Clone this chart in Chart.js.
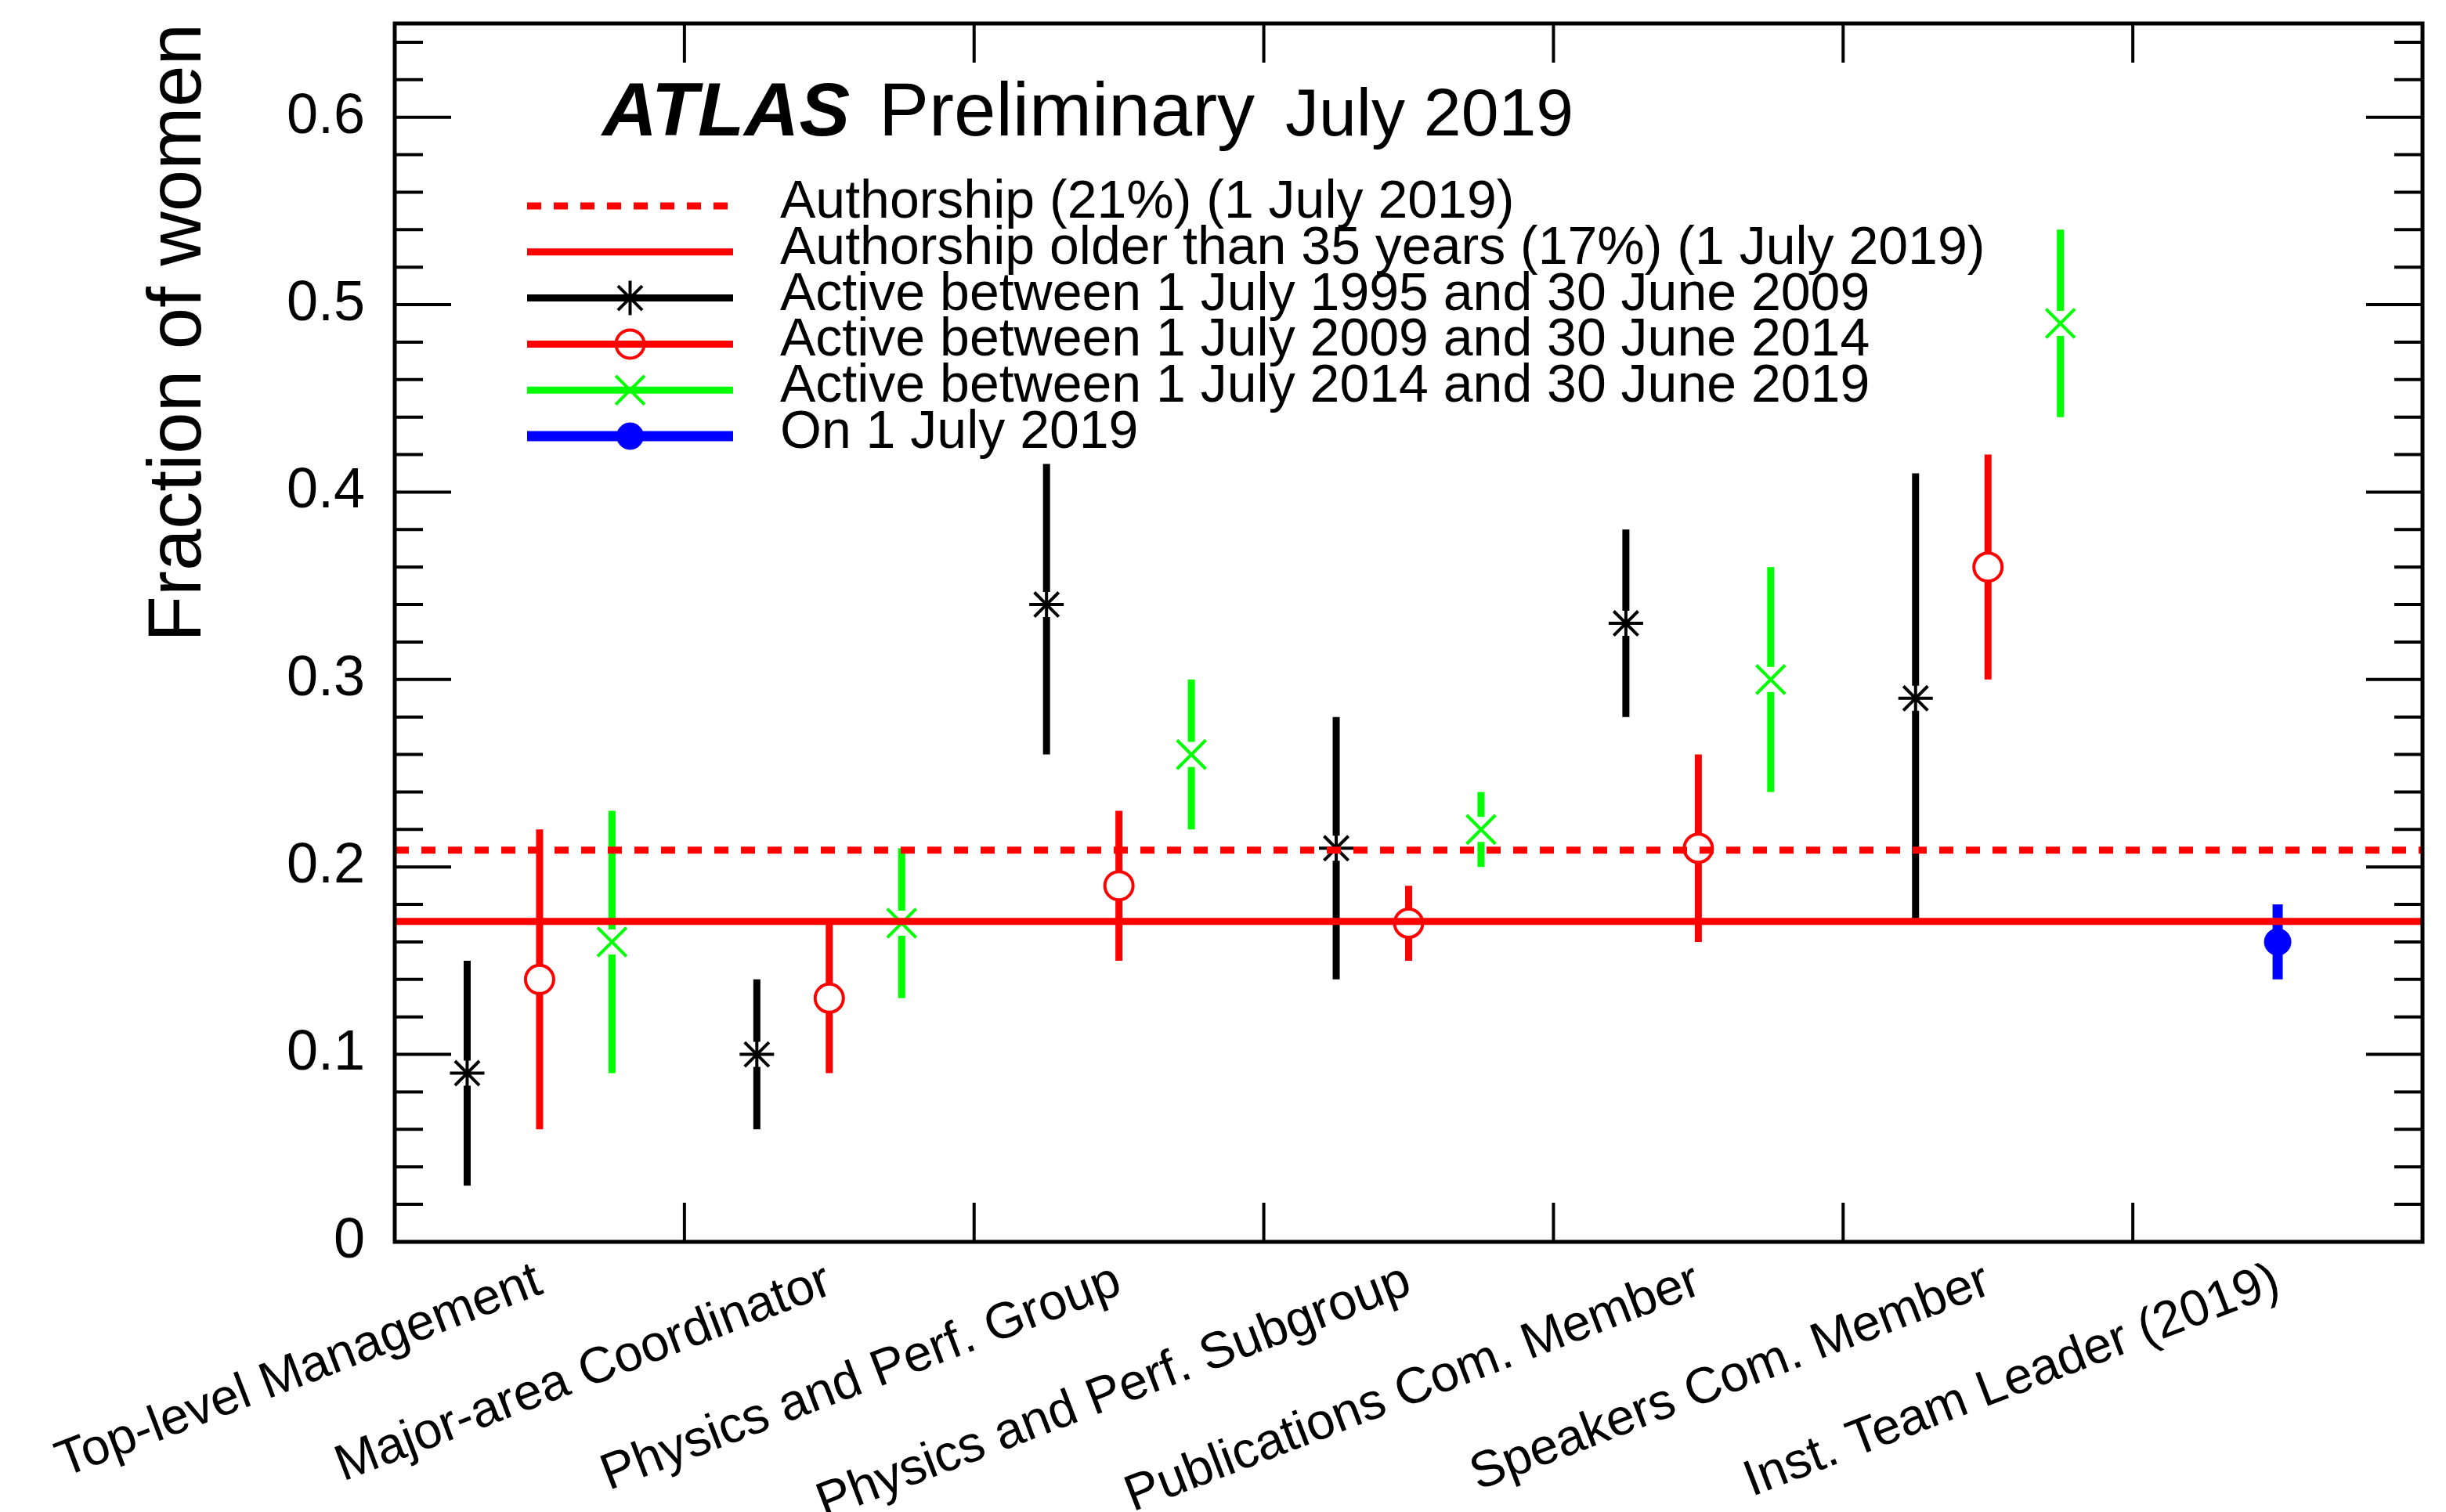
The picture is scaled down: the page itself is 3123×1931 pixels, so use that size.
<!DOCTYPE html>
<html>
<head>
<meta charset="utf-8">
<script src="https://cdn.jsdelivr.net/npm/chart.js@4.4.1/dist/chart.umd.min.js"></script>
<style>
  html, body { margin: 0; padding: 0; background: #fff; }
  canvas { display: block; }
</style>
</head>
<body>
<canvas id="myChart" width="3123" height="1931"></canvas>
<script>
// categories along x
const categories = [
    'Top-level Management',
    'Major-area Coordinator',
    'Physics and Perf. Group',
    'Physics and Perf. Subgroup',
    'Publications Com. Member',
    'Speakers Com. Member',
    'Inst. Team Leader (2019)'
];
const yTicks = [0, 0.1, 0.2, 0.3, 0.4, 0.5, 0.6];
const yTickLabels = ['0', '0.1', '0.2', '0.3', '0.4', '0.5', '0.6'];

// reference lines
const authorshipAll = 0.209;
const authorshipOver35 = 0.171;

// Active between 1 July 1995 and 30 June 2009
const active1995 = [0.09, 0.10, 0.34, 0.21, 0.33, 0.29, null];
const active1995Low = [0.03, 0.06, 0.26, 0.14, 0.28, 0.17, null];
const active1995High = [0.15, 0.14, 0.415, 0.28, 0.38, 0.41, null];

// Active between 1 July 2009 and 30 June 2014
const active2009 = [0.14, 0.13, 0.19, 0.17, 0.21, 0.36, null];
const active2009Low = [0.06, 0.09, 0.15, 0.15, 0.16, 0.30, null];
const active2009High = [0.22, 0.17, 0.23, 0.19, 0.26, 0.42, null];

// Active between 1 July 2014 and 30 June 2019
const active2014 = [0.16, 0.17, 0.26, 0.22, 0.30, 0.49, null];
const active2014Low = [0.09, 0.13, 0.22, 0.20, 0.24, 0.44, null];
const active2014High = [0.23, 0.21, 0.30, 0.24, 0.36, 0.54, null];

// On 1 July 2019
const onJuly2019 = [null, null, null, null, null, null, 0.16];
const onJuly2019Low = [null, null, null, null, null, null, 0.14];
const onJuly2019High = [null, null, null, null, null, null, 0.18];

const FONT = "'Liberation Sans', Arial, Helvetica, sans-serif";

// place a series inside each category slot, keep its error range with the point
function toPoints(vals, lows, highs, shift) {
    return vals.map((v, i) => ({ x: i + shift, y: v, lo: lows[i], hi: highs[i] }))
        .filter(p => p.y !== null);
}

// vertical error bars, with a gap round the marker like ROOT does
const errorBars = {
    id: 'errorBars',
    beforeDatasetsDraw(chart) {
        const { ctx, chartArea: a, scales: { x, y } } = chart;
        ctx.save();
        ctx.beginPath();
        ctx.rect(a.left, a.top, a.width, a.height);
        ctx.clip();
        chart.data.datasets.forEach(ds => {
            if (!ds.errWidth) return;
            ctx.strokeStyle = ds.borderColor;
            ctx.lineWidth = ds.errWidth;
            ds.data.forEach(p => {
                const px = x.getPixelForValue(p.x);
                const py = y.getPixelForValue(p.y);
                const top = y.getPixelForValue(p.hi);
                const bot = y.getPixelForValue(p.lo);
                const g = ds.errGap;
                ctx.beginPath();
                if (py - g > top) { ctx.moveTo(px, top); ctx.lineTo(px, py - g); }
                if (py + g < bot) { ctx.moveTo(px, py + g); ctx.lineTo(px, bot); }
                ctx.stroke();
            });
        });
        ctx.restore();
    }
};

// box frame with inward ticks on all four sides
const frame = {
    id: 'frame',
    afterDatasetsDraw(chart) {
        const { ctx, chartArea: a, scales: { x, y } } = chart;
        ctx.save();
        ctx.strokeStyle = '#000';
        ctx.lineWidth = 4;
        ctx.beginPath();
        for (let i = 0; i * 0.02 <= y.max; i++) {
            const py = y.getPixelForValue(i * 0.02);
            const len = i % 5 === 0 ? 72 : 36;
            ctx.moveTo(a.left, py); ctx.lineTo(a.left + len, py);
            ctx.moveTo(a.right, py); ctx.lineTo(a.right - len, py);
        }
        for (let v = x.min + 1; v < x.max; v++) {
            const px = x.getPixelForValue(v);
            ctx.moveTo(px, a.bottom); ctx.lineTo(px, a.bottom - 50);
            ctx.moveTo(px, a.top); ctx.lineTo(px, a.top + 50);
        }
        ctx.stroke();
        ctx.lineWidth = 5;
        ctx.strokeRect(a.left, a.top, a.width, a.height);
        ctx.restore();
    }
};

// ATLAS label and the ROOT style legend
const atlasLegend = {
    id: 'atlasLegend',
    afterDraw(chart) {
        const { ctx, chartArea: a } = chart;
        ctx.save();
        ctx.fillStyle = '#000';
        ctx.textBaseline = 'alphabetic';
        ctx.textAlign = 'left';
        ctx.font = 'italic bold 97px ' + FONT;
        ctx.fillText('ATLAS', a.left + 265, a.top + 143);
        ctx.font = '96px ' + FONT;
        ctx.fillText('Preliminary', a.left + 618, a.top + 143);
        ctx.font = '86px ' + FONT;
        ctx.fillText('July 2019', a.left + 1137, a.top + 143);

        ctx.font = '68px ' + FONT;
        chart.data.datasets.forEach((ds, i) => {
            const ly = a.top + 233 + i * 58.8;
            const x0 = a.left + 169, x1 = a.left + 432, xm = (x0 + x1) / 2;
            ctx.strokeStyle = ds.borderColor;
            ctx.lineWidth = ds.legendWidth;
            ctx.setLineDash(ds.borderDash || []);
            ctx.beginPath();
            ctx.moveTo(x0, ly);
            ctx.lineTo(x1, ly);
            ctx.stroke();
            ctx.setLineDash([]);
            if (ds.pointRadius && Chart.helpers && Chart.helpers.drawPoint) {
                ctx.strokeStyle = ds.pointBorderColor;
                ctx.fillStyle = ds.pointBackgroundColor;
                ctx.lineWidth = ds.pointBorderWidth;
                Chart.helpers.drawPoint(ctx, {
                    pointStyle: ds.pointStyle,
                    radius: ds.pointRadius,
                    borderWidth: ds.pointBorderWidth,
                    rotation: 0
                }, xm, ly);
            }
            ctx.fillStyle = '#000';
            ctx.fillText(ds.label, a.left + 492, ly + 15);
        });
        ctx.restore();
    }
};

Chart.defaults.font.family = FONT;
Chart.defaults.color = '#000';

const chart = new Chart(document.getElementById('myChart').getContext('2d'), {
    type: 'scatter',
    data: {
        datasets: [{
            label: 'Authorship (21%) (1 July 2019)',
            type: 'line',
            data: [{ x: 0, y: authorshipAll }, { x: 7, y: authorshipAll }],
            borderColor: '#ff0000',
            borderWidth: 9,
            borderDash: [18, 16],
            legendWidth: 9,
            pointRadius: 0,
            order: 0
        }, {
            label: 'Authorship older than 35 years (17%) (1 July 2019)',
            type: 'line',
            data: [{ x: 0, y: authorshipOver35 }, { x: 7, y: authorshipOver35 }],
            borderColor: '#ff0000',
            borderWidth: 9,
            legendWidth: 9,
            pointRadius: 0,
            order: 0
        }, {
            label: 'Active between 1 July 1995 and 30 June 2009',
            data: toPoints(active1995, active1995Low, active1995High, 0.25),
            borderColor: '#000000',
            pointBorderColor: '#000000',
            pointBackgroundColor: '#000000',
            pointStyle: 'star',
            pointRadius: 22,
            pointBorderWidth: 4,
            errWidth: 9,
            errGap: 16,
            legendWidth: 9,
            order: 1
        }, {
            label: 'Active between 1 July 2009 and 30 June 2014',
            data: toPoints(active2009, active2009Low, active2009High, 0.5),
            borderColor: '#ff0000',
            pointBorderColor: '#ff0000',
            pointBackgroundColor: 'rgba(0,0,0,0)',
            pointStyle: 'circle',
            pointRadius: 18,
            pointBorderWidth: 4,
            errWidth: 9,
            errGap: 18,
            legendWidth: 9,
            order: 1
        }, {
            label: 'Active between 1 July 2014 and 30 June 2019',
            data: toPoints(active2014, active2014Low, active2014High, 0.75),
            borderColor: '#00ff00',
            pointBorderColor: '#00ff00',
            pointBackgroundColor: '#00ff00',
            pointStyle: 'crossRot',
            pointRadius: 26,
            pointBorderWidth: 4,
            errWidth: 9,
            errGap: 16,
            legendWidth: 9,
            order: 1
        }, {
            label: 'On 1 July 2019',
            data: toPoints(onJuly2019, onJuly2019Low, onJuly2019High, 0.5),
            borderColor: '#0000ff',
            pointBorderColor: '#0000ff',
            pointBackgroundColor: '#0000ff',
            pointStyle: 'circle',
            pointRadius: 17,
            pointBorderWidth: 1,
            errWidth: 13,
            errGap: 0,
            legendWidth: 13,
            order: 1
        }]
    },
    options: {
        responsive: false,
        animation: false,
        events: [],
        devicePixelRatio: 1,
        layout: { padding: { top: 28, right: 22, left: 0, bottom: 0 } },
        plugins: {
            legend: { display: false },
            tooltip: { enabled: false }
        },
        scales: {
            x: {
                type: 'linear',
                min: 0,
                max: 7,
                afterBuildTicks: s => { s.ticks = categories.map((c, i) => ({ value: i + 0.5 })); },
                afterFit: s => { s.height = 345; s.paddingLeft = 0; s.paddingRight = 0; },
                ticks: {
                    callback: (v, i) => categories[i],
                    autoSkip: false,
                    minRotation: 21,
                    maxRotation: 21,
                    padding: 4,
                    color: '#000',
                    font: { size: 65 }
                },
                grid: { display: false },
                border: { display: false }
            },
            y: {
                min: 0,
                max: 0.65,
                afterBuildTicks: s => { s.ticks = yTicks.map(v => ({ value: v })); },
                afterFit: s => { s.width = 504; s.paddingTop = 0; s.paddingBottom = 0; },
                ticks: {
                    callback: (v, i) => yTickLabels[i],
                    padding: 30,
                    color: '#000',
                    font: { size: 72 }
                },
                title: {
                    display: true,
                    text: 'Fraction of women',
                    align: 'end',
                    color: '#000',
                    font: { size: 96 },
                    padding: { top: 172, bottom: 0 }
                },
                grid: { display: false },
                border: { display: false }
            }
        }
    },
    plugins: [errorBars, frame, atlasLegend]
});
</script>
</body>
</html>
